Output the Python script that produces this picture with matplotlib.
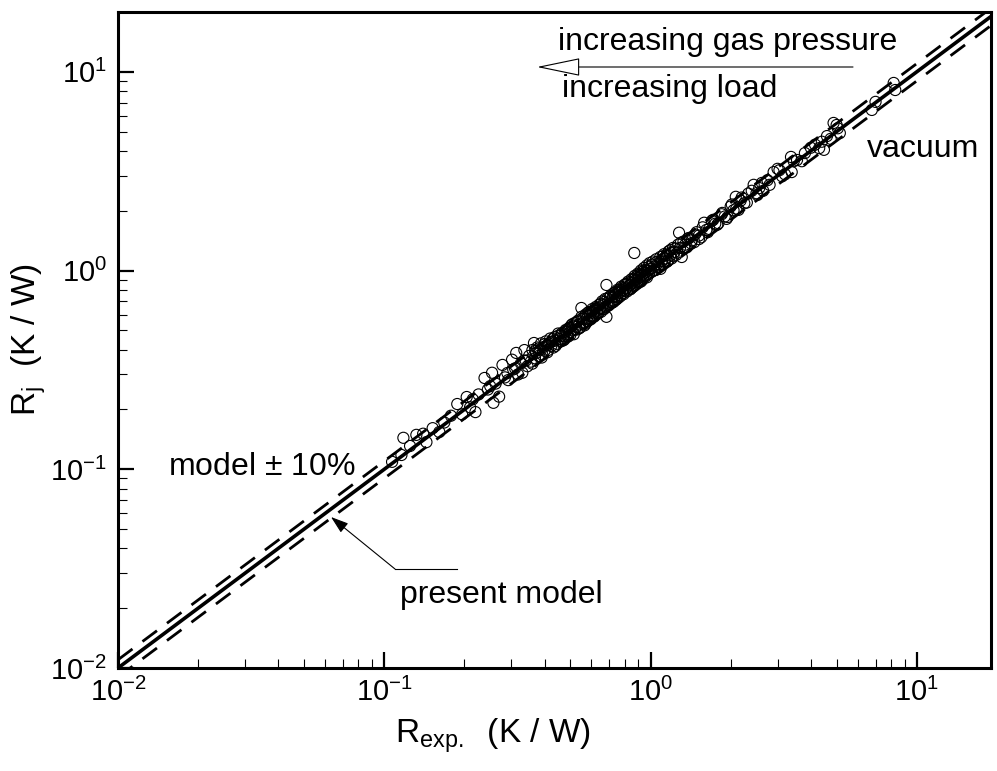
import matplotlib
matplotlib.use("Agg")
import matplotlib.pyplot as plt
from matplotlib.lines import Line2D

plt.rcParams['font.family'] = ['Liberation Sans', 'DejaVu Sans']
plt.rcParams['mathtext.fontset'] = 'custom'
plt.rcParams['mathtext.rm'] = 'Liberation Sans'
plt.rcParams['mathtext.it'] = 'Liberation Sans:italic'

r_exp = [
    0.107, 0.116, 0.118, 0.125, 0.132, 0.140, 0.144, 0.152, 0.161, 0.168, 0.178, 0.188,
    0.196, 0.204, 0.210, 0.220, 0.226, 0.238, 0.245, 0.254, 0.257, 0.262, 0.270, 0.278,
    0.284, 0.292, 0.302, 0.305, 0.313, 0.318, 0.326, 0.330, 0.336, 0.340, 0.345,
    0.350, 0.355, 0.360, 0.365, 0.368, 0.372, 0.375, 0.380, 0.384, 0.388, 0.392, 0.396,
    0.400, 0.404, 0.408, 0.412, 0.416, 0.420, 0.424, 0.428, 0.432, 0.436, 0.440, 0.445,
    0.450, 0.455, 0.460, 0.465, 0.470, 0.475, 0.480, 0.485, 0.490, 0.495,
    0.500, 0.505, 0.510, 0.515, 0.520, 0.525, 0.530, 0.535, 0.540, 0.545, 0.550, 0.555,
    0.560, 0.565, 0.570, 0.575, 0.580, 0.586, 0.592, 0.598, 0.604, 0.610, 0.616, 0.622,
    0.628, 0.634, 0.640, 0.646, 0.652, 0.658, 0.664, 0.670, 0.676, 0.683, 0.683, 0.690,
    0.697,
    0.704, 0.712, 0.720, 0.728, 0.736, 0.744, 0.752, 0.760, 0.768, 0.776, 0.784, 0.792,
    0.800, 0.808, 0.816, 0.824, 0.832, 0.840, 0.848, 0.856, 0.864, 0.869, 0.872, 0.880,
    0.888, 0.896, 0.904, 0.912, 0.920, 0.928, 0.936, 0.944, 0.952, 0.960, 0.968, 0.976,
    0.984, 0.992,
    1.000, 1.010, 1.020, 1.030, 1.040, 1.050, 1.062, 1.075, 1.088, 1.100, 1.112, 1.125,
    1.140, 1.155, 1.170, 1.185, 1.200, 1.215, 1.230, 1.250, 1.270, 1.280, 1.290, 1.310,
    1.330, 1.350, 1.370, 1.400, 1.430, 1.460, 1.490, 1.520, 1.550, 1.590, 1.620,
    1.660, 1.700, 1.750, 1.800, 1.850, 1.900, 1.950, 2.000, 2.050, 2.090, 2.140, 2.180,
    2.250, 2.330, 2.440, 2.500, 2.560, 2.650, 2.750, 2.900,
    3.050, 3.200, 3.370, 3.390, 3.550, 3.700, 4.000, 4.300, 4.480, 4.600, 4.870, 5.000,
    5.140, 6.780, 7.000, 8.190, 8.300,
    0.215, 0.250, 0.290, 0.310, 0.335,
    0.36, 0.37, 0.38, 0.39, 0.40, 0.41, 0.42, 0.43, 0.44, 0.45, 0.46, 0.47, 0.48, 0.49,
    0.50, 0.51, 0.52, 0.53, 0.54, 0.55, 0.56, 0.57, 0.58, 0.59, 0.60, 0.61, 0.62, 0.63,
    0.64, 0.65, 0.66, 0.67, 0.68, 0.69, 0.70, 0.71, 0.72, 0.73, 0.74, 0.75, 0.76, 0.77,
    0.78, 0.79, 0.80, 0.81, 0.82, 0.83, 0.84, 0.85, 0.86, 0.87, 0.88, 0.89, 0.90, 0.91,
    0.92, 0.93, 0.94, 0.95, 0.96, 0.97, 0.98, 0.99, 1.01, 1.03, 1.05, 1.07, 1.09, 1.11,
    1.13, 1.15, 1.17, 1.19, 1.22, 1.24, 1.26, 1.30, 1.34, 1.38, 1.42, 1.47, 1.52, 1.57,
    1.64, 1.72, 1.78, 1.86, 1.93, 2.02, 2.10, 2.20, 2.30, 2.40, 2.52, 2.62, 2.80, 3.00,
    3.12, 3.45, 3.80, 4.15, 4.40, 4.75, 5.05,
]
r_model = [
    0.109, 0.118, 0.144, 0.131, 0.149, 0.151, 0.137, 0.161, 0.154, 0.172, 0.186, 0.213,
    0.189, 0.231, 0.205, 0.194, 0.238, 0.288, 0.252, 0.306, 0.216, 0.270, 0.232, 0.335,
    0.290, 0.281, 0.356, 0.318, 0.385, 0.300, 0.341, 0.306, 0.398, 0.352, 0.330,
    0.372, 0.348, 0.398, 0.432, 0.362, 0.385, 0.410, 0.372, 0.400, 0.430, 0.378, 0.412,
    0.395, 0.440, 0.420, 0.398, 0.430, 0.455, 0.418, 0.440, 0.410, 0.462, 0.445, 0.428,
    0.470, 0.452, 0.440, 0.485, 0.468, 0.450, 0.502, 0.478, 0.465, 0.515,
    0.492, 0.532, 0.500, 0.478, 0.545, 0.520, 0.505, 0.560, 0.535, 0.518, 0.648, 0.575,
    0.548, 0.530, 0.600, 0.572, 0.555, 0.618, 0.590, 0.570, 0.640, 0.610, 0.588, 0.655,
    0.628, 0.605, 0.672, 0.645, 0.620, 0.700, 0.668, 0.640, 0.720, 0.846, 0.585, 0.690,
    0.668,
    0.740, 0.705, 0.690, 0.770, 0.742, 0.715, 0.800, 0.768, 0.740, 0.830, 0.792, 0.760,
    0.850, 0.812, 0.785, 0.880, 0.840, 0.805, 0.905, 0.868, 0.835, 1.226, 0.940, 0.895,
    0.860, 0.965, 0.920, 0.885, 1.000, 0.950, 0.910, 1.030, 0.975, 0.935, 1.060, 1.000,
    0.960, 1.090,
    1.020, 0.985, 1.110, 1.045, 1.010, 1.140, 1.080, 1.040, 1.170, 1.115, 1.075, 1.210,
    1.150, 1.110, 1.250, 1.190, 1.150, 1.300, 1.240, 1.200, 1.350, 1.550, 1.300, 1.170,
    1.400, 1.350, 1.310, 1.460, 1.420, 1.390, 1.560, 1.500, 1.470, 1.740, 1.600,
    1.620, 1.780, 1.720, 1.730, 1.920, 1.870, 1.860, 2.100, 2.010, 2.350, 2.020, 2.250,
    2.180, 2.440, 2.700, 2.450, 2.600, 2.520, 2.850, 3.130,
    3.200, 3.050, 3.730, 3.130, 3.600, 3.550, 4.150, 4.130, 4.050, 4.750, 5.530, 5.400,
    4.920, 6.430, 7.060, 8.790, 8.100,
    0.225, 0.262, 0.305, 0.322, 0.352,
    0.340, 0.395, 0.405, 0.365, 0.425, 0.388, 0.435, 0.452, 0.418, 0.482, 0.470, 0.445,
    0.492, 0.508, 0.475, 0.538, 0.505, 0.552, 0.512, 0.585, 0.570, 0.540, 0.610, 0.565,
    0.622, 0.585, 0.640, 0.612, 0.618, 0.680, 0.640, 0.695, 0.655, 0.725, 0.680, 0.748,
    0.735, 0.700, 0.780, 0.735, 0.795, 0.750, 0.820, 0.772, 0.790, 0.855, 0.800, 0.870,
    0.850, 0.820, 0.900, 0.850, 0.925, 0.875, 0.950, 0.900, 0.880, 0.985, 0.930, 1.005,
    0.950, 0.925, 1.040, 0.975, 1.070, 1.000, 1.100, 1.060, 1.020, 1.180, 1.110, 1.200,
    1.130, 1.270, 1.180, 1.290, 1.230, 1.380, 1.300, 1.450, 1.370, 1.520, 1.440, 1.650,
    1.560, 1.800, 1.700, 1.950, 1.820, 2.150, 2.050, 2.330, 2.200, 2.520, 2.400, 2.760,
    2.700, 3.250, 2.980, 3.550, 3.900, 4.300, 4.450, 4.600, 5.200,
]

# present model (y = x) and the +/-10% band
model_x = [0.01, 20]
band = [1.1, 0.9]

W, H = 997, 771


def fig_xy(px, py):
    # pixel position measured from the top-left corner -> figure fraction
    return px / W, 1 - py / H


fig = plt.figure(figsize=(W / 100, H / 100), dpi=100)
ax = fig.add_axes([118 / W, 1 - 668 / H, (991 - 118) / W, (668 - 12) / H])

ax.scatter(r_exp, r_model, s=64, facecolors='none', edgecolors='black',
           linewidths=0.8, zorder=2)
ax.plot(model_x, model_x, color='black', lw=2.6, zorder=3)
for f in band:
    ax.plot(model_x, [v * f for v in model_x], color='black', lw=2.0,
            dashes=(6.5, 4.5), zorder=3)

ax.set_xscale('log')
ax.set_yscale('log')
ax.set_xlim(0.01, 19)
ax.set_ylim(0.01, 20)

for s in ax.spines.values():
    s.set_linewidth(2.2)
ax.tick_params(which='major', direction='in', length=11.5, width=1.6,
               labelsize=21, pad=8, top=False, right=False)
ax.tick_params(which='minor', direction='in', length=6.5, width=0.8,
               top=False, right=False)
ax.tick_params(axis='x', which='major', pad=7)

# axis titles
fx, fy = fig_xy(395, 743)
fig.text(fx, fy, r'R$_{\mathregular{exp.}}$  (K / W)', fontsize=24,
         ha='left', va='baseline')
fx, fy = fig_xy(29, 340)
fig.text(fx, fy, r'R$_{\mathregular{j}}$  (K / W)', fontsize=24,
         rotation=90, ha='center', va='center')

# annotations
fx, fy = fig_xy(558, 50)
fig.text(fx, fy, 'increasing gas pressure', fontsize=23, ha='left', va='baseline')
fx, fy = fig_xy(562, 97)
fig.text(fx, fy, 'increasing load', fontsize=23, ha='left', va='baseline')
fx, fy = fig_xy(867, 157)
fig.text(fx, fy, 'vacuum', fontsize=23, ha='left', va='baseline')
fx, fy = fig_xy(168, 475)
fig.text(fx, fy, r'model $\pm$ 10%', fontsize=23, ha='left', va='baseline')
fx, fy = fig_xy(400, 603)
fig.text(fx, fy, 'present model', fontsize=23, ha='left', va='baseline')

# open arrow for the trend direction
ax.annotate('', xy=fig_xy(537, 67), xytext=fig_xy(853, 67),
            xycoords='figure fraction', textcoords='figure fraction',
            arrowprops=dict(arrowstyle='-|>,head_length=1.4,head_width=0.29',
                            mutation_scale=20, fc='white', ec='black',
                            lw=0.8, shrinkA=0, shrinkB=0))

# leader for "present model"
p0, p1 = fig_xy(457, 569), fig_xy(395, 569)
fig.add_artist(Line2D([p0[0], p1[0]], [p0[1], p1[1]], color='black', lw=0.8,
                      transform=fig.transFigure))
ax.annotate('', xy=fig_xy(331, 517), xytext=fig_xy(395, 569),
            xycoords='figure fraction', textcoords='figure fraction',
            arrowprops=dict(arrowstyle='-|>,head_length=0.9,head_width=0.3',
                            mutation_scale=12, fc='black', ec='black',
                            lw=0.8, shrinkA=0, shrinkB=0))

plt.savefig('out.png', dpi=100)
